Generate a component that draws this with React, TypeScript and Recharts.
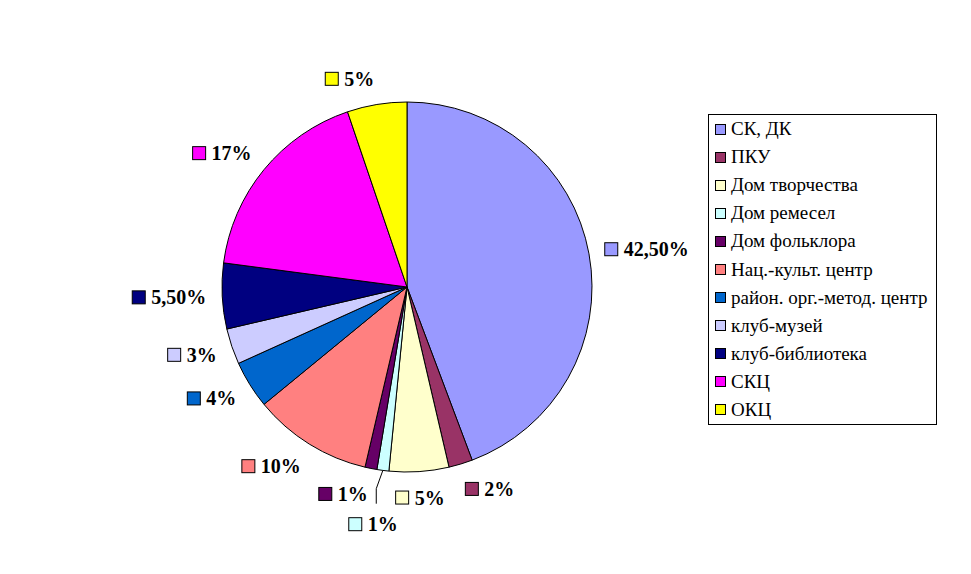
import React from 'react';
import { PieChart, Pie, Cell, Legend } from 'recharts';

const CATEGORIES = [
  'СК, ДК',
  'ПКУ',
  'Дом творчества',
  'Дом ремесел',
  'Дом фольклора',
  'Нац.-культ. центр',
  'район. орг.-метод. центр',
  'клуб-музей',
  'клуб-библиотека',
  'СКЦ',
  'ОКЦ',
];

const VALUES = [42.5, 2, 5, 1, 1, 10, 4, 3, 5.5, 17, 5];

const COLORS = [
  '#9999FF',
  '#993366',
  '#FFFFCC',
  '#CCFFFF',
  '#660066',
  '#FF8080',
  '#0066CC',
  '#CCCCFF',
  '#000080',
  '#FF00FF',
  '#FFFF00',
];

// Excel pushed one crowded label down and added a leader line
const LABEL_NUDGE = [
  [0, 0], [0, 0], [0, 0], [17, 28], [0, 0], [0, 0],
  [0, 0], [0, 0], [0, 0], [0, 0], [0, 0],
];

const FONT = 'Liberation Serif, DejaVu Serif, serif';
const RADIAN = Math.PI / 180;
const SQ = 13;

const data = CATEGORIES.map((name, i) => ({ name, value: VALUES[i] }));

const fmt = (v: number) =>
  Number.isInteger(v) ? `${v}%` : `${v.toFixed(2).replace('.', ',')}%`;

let ctx: CanvasRenderingContext2D | null = null;
function textWidth(t: string) {
  if (!ctx) ctx = document.createElement('canvas').getContext('2d');
  if (!ctx) return t.length * 10;
  ctx.font = `bold 20px ${FONT}`;
  return ctx.measureText(t).width;
}

const renderLabel = (props: any) => {
  const { cx, cy, midAngle, outerRadius, index } = props;
  const ux = Math.cos(midAngle * RADIAN);
  const uy = -Math.sin(midAngle * RADIAN);
  const d = outerRadius + 16;
  const text = fmt(VALUES[index]);
  const w = SQ + 6 + textWidth(text);
  const h = 20;
  const [nx, ny] = LABEL_NUDGE[index];
  const bx = cx + d * ux + (Math.abs(ux) < 0.1 ? 0 : Math.sign(ux) * w / 2) + nx;
  const by = cy + d * uy + uy * h / 2 + ny;
  const left = bx - w / 2;
  const top = by - SQ / 2;

  let leader = null;
  if (ny > 15) {
    const ax = cx + outerRadius * ux;
    const ay = cy + outerRadius * uy;
    leader = (
      <polyline
        points={`${ax},${ay} ${bx + 3},${top - 29} ${bx + 3},${top - 14}`}
        fill="none"
        stroke="#000"
        strokeWidth={1}
      />
    );
  }

  return (
    <g key={`lbl-${index}`}>
      {leader}
      <rect x={left} y={top} width={SQ} height={SQ} fill={COLORS[index]} stroke="#000" strokeWidth={1} />
      <text
        x={left + SQ + 6}
        y={by + 7}
        style={{ fontFamily: FONT, fontWeight: 'bold', fontSize: 20 }}
        fill="#000"
      >
        {text}
      </text>
    </g>
  );
};

const LegendBox = () => (
  <div
    style={{
      boxSizing: 'border-box',
      width: 229,
      height: 311,
      border: '1px solid #000',
      background: '#fff',
      fontFamily: FONT,
      fontSize: 19,
      color: '#000',
    }}
  >
    {CATEGORIES.map((name, i) => (
      <div key={name} style={{ height: 28.1, display: 'flex', alignItems: 'center', paddingLeft: 6 }}>
        <span
          style={{
            display: 'inline-block',
            width: 9,
            height: 9,
            border: '1px solid #000',
            background: COLORS[i],
            marginRight: 5,
            flexShrink: 0,
          }}
        />
        <span style={{ whiteSpace: 'nowrap' }}>{name}</span>
      </div>
    ))}
  </div>
);

export default function App() {
  return (
    <div style={{ position: 'absolute', left: 0, top: 0, width: 971, height: 574, background: '#fff', fontFamily: FONT }}>
      <PieChart width={971} height={574} margin={{ top: 0, right: 0, bottom: 0, left: 0 }}>
        <Pie
          data={data}
          dataKey="value"
          nameKey="name"
          cx={407}
          cy={287}
          outerRadius={185}
          startAngle={90}
          endAngle={-270}
          stroke="#000"
          strokeWidth={1}
          labelLine={false}
          label={renderLabel}
          isAnimationActive={false}
        >
          {data.map((entry, index) => (
            <Cell key={`cell-${index}`} fill={COLORS[index]} />
          ))}
        </Pie>
        <Legend
          layout="vertical"
          verticalAlign="top"
          align="right"
          content={<LegendBox />}
          wrapperStyle={{ left: 708, top: 114, width: 229, right: 'auto' }}
        />
      </PieChart>
    </div>
  );
}
